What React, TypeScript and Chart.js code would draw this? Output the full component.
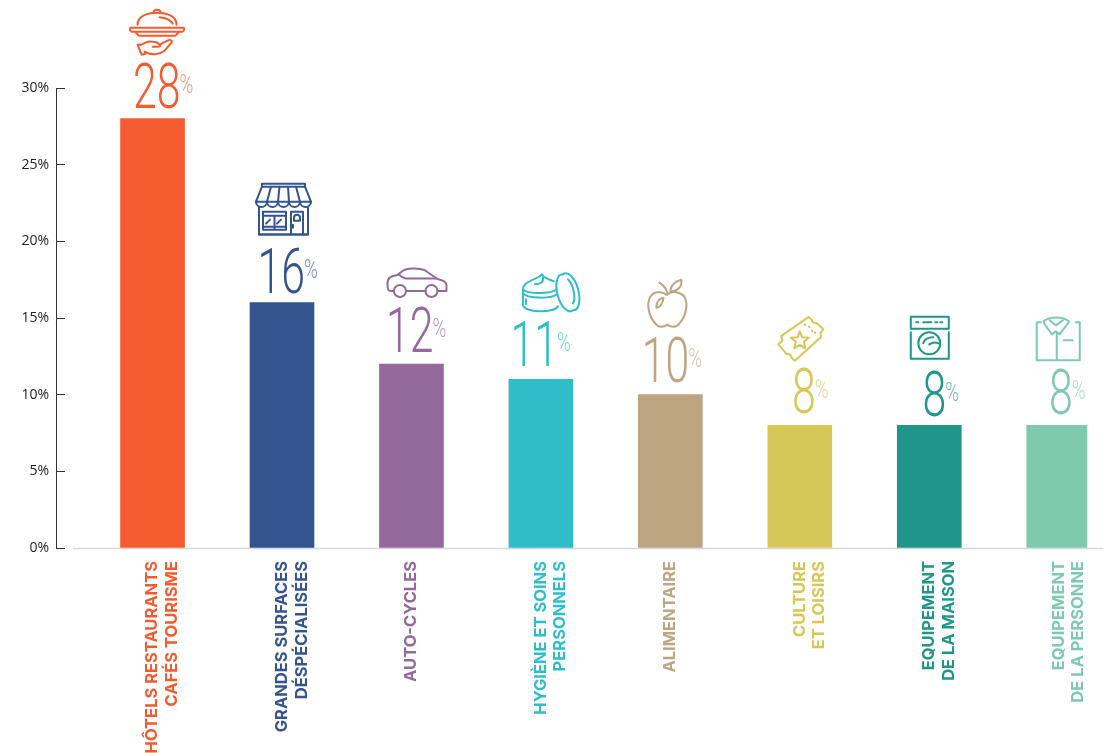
import { useEffect, useRef } from "react";
import { Chart, registerables } from "chart.js";

Chart.register(...registerables);

// Sector names, one array entry per printed line
const categories: string[][] = [
  ["HÔTELS RESTAURANTS", "CAFÉS TOURISME"],
  ["GRANDES SURFACES", "DÉSPÉCIALISÉES"],
  ["AUTO-CYCLES"],
  ["HYGIÈNE ET SOINS", "PERSONNELS"],
  ["ALIMENTAIRE"],
  ["CULTURE", "ET LOISIRS"],
  ["EQUIPEMENT", "DE LA MAISON"],
  ["EQUIPEMENT", "DE LA PERSONNE"],
];
const shares = [28, 16, 12, 11, 10, 8, 8, 8];
const colors = ["#F45C2F", "#33548F", "#936A9B", "#2FBEC9", "#BDA582", "#D6C757", "#20958A", "#7FCAAE"];
const yTicks = [0, 5, 10, 15, 20, 25, 30];

// Number placement relative to the bar: right edge from bar centre, gap above bar top
const numberRight = [26, 21, 20, 15, 17, 14, 15, 12];
const numberGap = [11, 10, 12, 13, 13, 12, 9, 11];
// Pictogram placement relative to the bar: left edge from bar centre, top above bar top
const iconLeft = [-23, -27, -24, -20, -23, -22, -19, -23];
const iconTop = [111, 120, 96, 106, 115, 109, 109, 109];

// Line pictograms, one SVG path list per sector
const icons: string[][] = [
  [
    "M8 17 C8 9 17 5 27.5 5 C38 5 47 9 47 17",
    "M24 5 C24 1 31 1 31 5",
    "M30 9.5 C36 10 41 12 43 16",
    "M1 20 H54 C55 21 55 23 53 24 H2 C0 23 0 21 1 20Z",
    "M6 24.5 L9 28 H46 L49 24.5",
    "M8 37 L12 47 L16 46 L15 44 C22 48 30 47 35 43 L42 35 C43 33 41 31.5 38 33 L30 37 C28 34 25 34 23 34 C19 33 15 35 12 37 Z",
    "M23 39 H29 C31 39 31 37 30 37",
  ],
  [
    "M7 1 H50 V4 H7Z",
    "M7 4 L1 19 M50 4 L56 19 M1 19 H56",
    "M16 4 L12 19 M24.5 4 L23 19 M33 4 L34 19 M41 4 L45 19",
    "M1 19 C1 26 12 26 12 19 C12 26 23 26 23 19 C23 26 34 26 34 19 C34 26 45 26 45 19 C45 26 56 26 56 19",
    "M4 24 V52 H53 V24 M4 51.5 H53",
    "M8 29 H31 V47 H8Z M8 33 H31 M19.5 33 V47 M8 44 H31",
    "M36 51 V29 H48 V51",
    "M39 35 C39 31 45 31 45 35 V38 H39Z",
    "M38 42 V45 M11 41 L15 37 M22 41 L26 37",
  ],
  [
    "M6.5 23 H3 C0.5 23 0 20 0 16 C0 10 3 8 10 7 L15 3 C19 0 30 -0.5 37 2 L50 11 C55 12 59 14 59 17 V23 H50 M18.5 23 H38",
    "M12 7 C14 9 15 10 18 10.5 H49",
    "M6.5 23 A6 6 0 1 1 18.5 23 A6 6 0 1 1 6.5 23",
    "M38 23 A6 6 0 1 1 50 23 A6 6 0 1 1 38 23",
  ],
  [
    "M42 1 A19 9 75 1 1 52 37 A19 9 75 1 1 42 1",
    "M47 6 A14 6 75 0 1 52 30",
    "M2 20 V31 C2 36 12 38 20 38 C28 38 36 36 37 33",
    "M2 20 C6 25 30 26 36 21",
    "M2 16 C6 21 30 21 36 16",
    "M2 16 V20 M2 16 C2 12 6 9 9 8 C13 5 18 5 21 1 C23 5 28 6 33 8",
    "M14 11 C19 11 23 9 22 4 M5 26 V31",
  ],
  [
    "M19 15 C14 11 6 12 3 17 C-1 24 1 36 8 44 C11 48 16 48 20 45 C24 48 29 48 32 44 C39 36 41 24 37 17 C33 12 25 11 21 14",
    "M20 15 C20 11 18 7 12 3",
    "M23 12 C23 5 29 1 34 0 C35 7 30 12 23 12Z",
    "M9 28 C9 22 11 19 16 18 C16 22 13 28 9 28Z",
  ],
  [
    "M31 0.5 L34 3.5 C34 6 37 7 38.5 6.5 L45.5 13 L43 16 C42 18 44 20 43 21 L17 44.5 L14 42 C14 39 11 37 9 38 L0.5 28 L4 25 C5 23 4 21 3 20 Z",
    "M22 15 L24.3 21 L31 21.5 L26 25.5 L27.5 32 L22 28.5 L16.5 32 L18 25.5 L13 21.5 L19.7 21 Z",
    "M27 8 L27.6 8.6 M31 10 L31.6 10.6 M34 14 L34.6 14.6 M37 16 L37.6 16.6",
  ],
  [
    "M0.5 0.5 H38.5 V12.5 H0.5Z",
    "M0.5 16 V42.5 H38.5 V16",
    "M6 6 H8 M13 6 H21 M25 6 H27 M30 6 H32",
    "M8 27 A11 11 0 1 1 30 27 A11 11 0 1 1 8 27",
    "M13 27 C14 23 18 21 23 21 M19 28 C22 26 26 26 28 27",
  ],
  [
    "M8 5 C14 0 27 0 33 5 C33 8 26 14 24 18 L20 15 L16 18 C14 14 8 9 8 5Z",
    "M14 4 L20 9 L27 4",
    "M5 6 H1 V44 H44 V6 H40",
    "M21 17 V44 M28 24 H37",
  ],
];

// Grey baseline under the bars; it starts a little to the right of the value axis
const baselinePlugin = {
  id: "baseline",
  beforeDatasetsDraw(chart: any) {
    const { ctx, scales } = chart;
    const y = scales.y.getPixelForValue(0);
    ctx.save();
    ctx.strokeStyle = "#D8D8D8";
    ctx.lineWidth = 1.5;
    ctx.beginPath();
    ctx.moveTo(scales.y.right + 17, y + 0.5);
    ctx.lineTo(chart.width, y + 0.5);
    ctx.stroke();
    ctx.restore();
  },
};

// Big condensed percentage and line pictogram above each bar
const headlinePlugin = {
  id: "headline",
  afterDatasetsDraw(chart: any) {
    const { ctx } = chart;
    const bars = chart.getDatasetMeta(0).data;
    bars.forEach((bar: any, i: number) => {
      const cx = bar.x;
      const top = bar.y;
      const right = cx + numberRight[i];
      const base = top - numberGap[i];

      ctx.save();
      ctx.fillStyle = colors[i];
      ctx.textBaseline = "alphabetic";
      ctx.textAlign = "right";
      ctx.translate(right + 2, base);
      ctx.scale(0.68, 1);
      ctx.font = "300 63px Roboto";
      ctx.fillText(String(shares[i]), 0, 0);
      ctx.restore();

      ctx.save();
      ctx.fillStyle = colors[i];
      ctx.globalAlpha = 0.65;
      ctx.textBaseline = "alphabetic";
      ctx.textAlign = "left";
      ctx.translate(right + 1, base - 15);
      ctx.scale(0.72, 1);
      ctx.font = "300 26px Roboto";
      ctx.fillText("%", 0, 0);
      ctx.restore();

      ctx.save();
      ctx.translate(cx + iconLeft[i], top - iconTop[i]);
      ctx.strokeStyle = colors[i];
      ctx.lineWidth = 2;
      ctx.lineJoin = "round";
      ctx.lineCap = "round";
      icons[i].forEach((d) => ctx.stroke(new Path2D(d)));
      ctx.restore();
    });
  },
};

export default function App() {
  const ref = useRef<HTMLCanvasElement>(null);

  useEffect(() => {
    const chart = new Chart(ref.current!, {
      type: "bar",
      plugins: [baselinePlugin, headlinePlugin],
      data: {
        datasets: [
          {
            data: shares.map((y, x) => ({ x, y })),
            backgroundColor: colors,
            barThickness: 64,
          },
        ],
      },
      options: {
        animation: false,
        responsive: false,
        layout: { autoPadding: false, padding: { top: 88, left: 0, right: 0, bottom: 0 } },
        plugins: { legend: { display: false }, tooltip: { enabled: false } },
        scales: {
          x: {
            type: "linear",
            offset: false,
            min: -0.7457,
            max: 7.2206,
            grid: { display: false },
            border: { display: false },
            afterFit(scale: any) {
              scale.height = 205;
            },
            afterBuildTicks(scale: any) {
              scale.ticks = categories.map((_, value) => ({ value }));
            },
            ticks: {
              autoSkip: false,
              minRotation: 90,
              maxRotation: 90,
              padding: 5,
              callback: (value: any) => categories[value as number],
              color: (ctx: any) => colors[ctx.index],
              font: { family: "Inter", weight: "bold", size: 16.5, lineHeight: 1.19 },
            },
          },
          y: {
            min: 0,
            max: 30,
            grid: { drawOnChartArea: false, tickLength: -9, color: "#333333", lineWidth: 1 },
            border: { display: true, color: "#333333", width: 1 },
            afterFit(scale: any) {
              scale.width = 56;
            },
            afterBuildTicks(scale: any) {
              scale.ticks = yTicks.map((value) => ({ value }));
            },
            ticks: {
              padding: 16,
              color: "#222222",
              callback: (value: any) => `${value}%`,
              font: { family: "Open Sans", size: 14 },
            },
          },
        },
      },
    } as any);
    return () => chart.destroy();
  }, []);

  return (
    <div style={{ position: "fixed", left: 0, top: 0, width: 1103, height: 753, overflow: "hidden", background: "#fff" }}>
      <canvas ref={ref} width={1103} height={753} style={{ display: "block" }} />
    </div>
  );
}
